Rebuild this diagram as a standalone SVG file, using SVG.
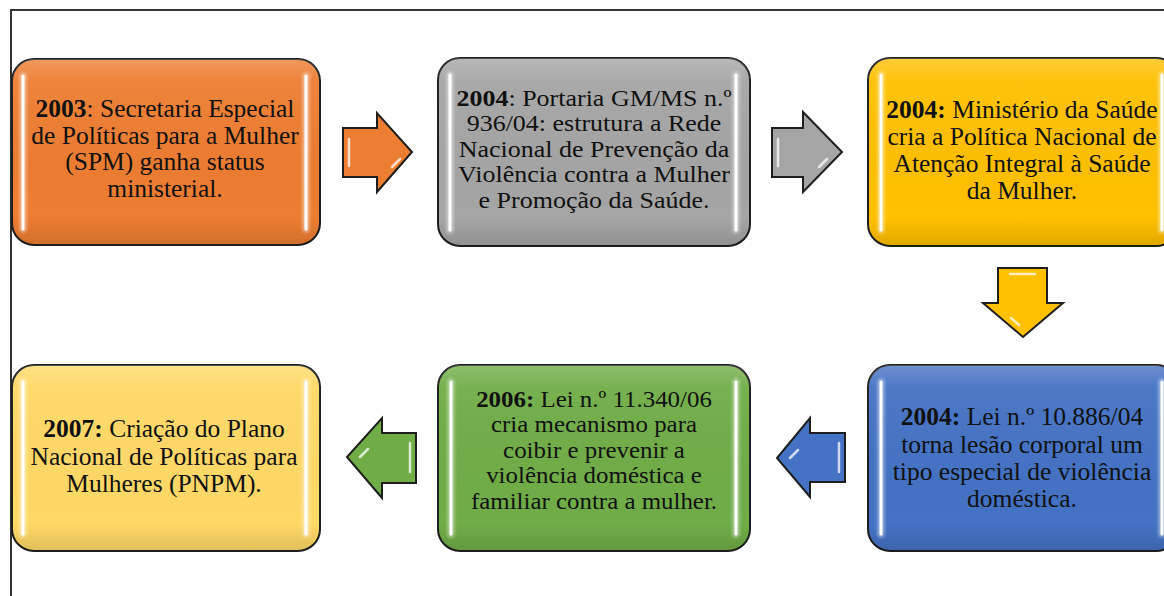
<svg xmlns="http://www.w3.org/2000/svg" width="1164" height="596" viewBox="0 0 1164 596">
<style>
.box{stroke:#1e1e1e;stroke-width:2}
.gl{fill:url(#gloss)}
.hl{stroke:#fff;stroke-width:3;stroke-linecap:round;fill:none}
.hlg{stroke:#fff;stroke-width:7;stroke-linecap:round;fill:none;opacity:.45;filter:url(#blur)}
.arr{stroke:#1e1e1e;stroke-width:2;stroke-linejoin:miter}
.ah{fill:none;stroke:#fff;stroke-width:2.5;stroke-linecap:round;opacity:.75}
text{font-family:"Liberation Serif","Times New Roman",serif;fill:#111;text-anchor:middle;font-size:25.5px}
.b{font-weight:bold}
</style>
<defs>
<linearGradient id="gloss" x1="0" y1="0" x2="0" y2="1">
<stop offset="0" stop-color="#fff" stop-opacity=".22"/>
<stop offset=".12" stop-color="#fff" stop-opacity=".05"/>
<stop offset=".85" stop-color="#000" stop-opacity="0"/>
<stop offset="1" stop-color="#000" stop-opacity=".12"/>
</linearGradient>
<filter id="blur" x="-50%" y="-10%" width="200%" height="120%"><feGaussianBlur stdDeviation="1.5"/></filter>
</defs>

<g id="frame" fill="none" stroke="#333" stroke-width="2">
<path d="M11,596 V10 H1164"/>
</g>

<g id="node-2003">
<rect class="box" x="12" y="59" width="308" height="186" rx="22" fill="#ED7D31"/>
<rect class="gl" x="12" y="59" width="308" height="186" rx="22"/>
<path class="hlg" d="M23,76 V229 M306,76 V229"/><path class="hl" d="M23,76 V229 M306,76 V229"/>
<text style="font-size:24.5px" transform="translate(165,0) scale(1.04,1)"><tspan x="0" y="117"><tspan class="b">2003</tspan>: Secretaria Especial</tspan><tspan x="0" y="144">de Políticas para a Mulher</tspan><tspan x="0" y="170.5">(SPM) ganha status</tspan><tspan x="0" y="197.5">ministerial.</tspan></text>
</g>

<g id="node-2004a">
<rect class="box" x="438" y="58" width="312" height="188" rx="22" fill="#A5A5A5"/>
<rect class="gl" x="438" y="58" width="312" height="188" rx="22"/>
<path class="hlg" d="M450,75 V230 M736,75 V230"/><path class="hl" d="M450,75 V230 M736,75 V230"/>
<text style="font-size:23px" transform="translate(594,0) scale(1.13,1)"><tspan x="0" y="106"><tspan class="b">2004</tspan>: Portaria GM/MS n.º</tspan><tspan x="0" y="131.5">936/04: estrutura a Rede</tspan><tspan x="0" y="157">Nacional de Prevenção da</tspan><tspan x="0" y="182.5">Violência contra a Mulher</tspan><tspan x="0" y="208">e Promoção da Saúde.</tspan></text>
</g>

<g id="node-2004b">
<rect class="box" x="868" y="58" width="310" height="188" rx="22" fill="#FFC000"/>
<rect class="gl" x="868" y="58" width="310" height="188" rx="22"/>
<path class="hlg" d="M881,75 V230 M1162,75 V230"/><path class="hl" d="M881,75 V230 M1162,75 V230"/>
<text><tspan x="1022" y="118"><tspan class="b">2004:</tspan> Ministério da Saúde</tspan><tspan x="1022" y="145">cria a Política Nacional de</tspan><tspan x="1022" y="172">Atenção Integral à Saúde</tspan><tspan x="1022" y="199">da Mulher.</tspan></text>
</g>

<g id="node-2004c">
<rect class="box" x="868" y="365" width="310" height="186" rx="22" fill="#4472C4"/>
<rect class="gl" x="868" y="365" width="310" height="186" rx="22"/>
<path class="hlg" d="M881,382 V534 M1162,382 V534"/><path class="hl" d="M881,382 V534 M1162,382 V534"/>
<text><tspan x="1022" y="425"><tspan class="b">2004:</tspan> Lei n.º 10.886/04</tspan><tspan x="1022" y="453">torna lesão corporal um</tspan><tspan x="1022" y="480">tipo especial de violência</tspan><tspan x="1022" y="507">doméstica.</tspan></text>
</g>

<g id="node-2006">
<rect class="box" x="438" y="365" width="312" height="186" rx="22" fill="#70AD47"/>
<rect class="gl" x="438" y="365" width="312" height="186" rx="22"/>
<path class="hlg" d="M451,382 V534 M736,382 V534"/><path class="hl" d="M451,382 V534 M736,382 V534"/>
<text style="font-size:23.5px" transform="translate(594,0) scale(1.06,1)"><tspan x="0" y="407"><tspan class="b">2006:</tspan> Lei n.º 11.340/06</tspan><tspan x="0" y="432.5">cria mecanismo para</tspan><tspan x="0" y="458">coibir e prevenir a</tspan><tspan x="0" y="483.5">violência doméstica e</tspan><tspan x="0" y="509">familiar contra a mulher.</tspan></text>
</g>

<g id="node-2007">
<rect class="box" x="12" y="365" width="308" height="186" rx="22" fill="#FFD966"/>
<rect class="gl" x="12" y="365" width="308" height="186" rx="22"/>
<path class="hlg" d="M23,382 V534 M306,382 V534"/><path class="hl" d="M23,382 V534 M306,382 V534"/>
<text><tspan x="164" y="437"><tspan class="b">2007:</tspan> Criação do Plano</tspan><tspan x="164" y="465">Nacional de Políticas para</tspan><tspan x="164" y="492">Mulheres (PNPM).</tspan></text>
</g>

<g id="connectors">
<path class="arr" fill="#ED7D31" d="M343,128 H377 V113 L412,152 L377,192 V177 H343 Z"/>
<path class="ah" d="M349,139 V166 M392,167 L400,159"/>
<path class="arr" fill="#A5A5A5" d="M772,128 H803 V112 L842,152 L803,192 V177 H772 Z"/>
<path class="ah" d="M778,139 V166 M819,167 L827,159"/>
<path class="arr" fill="#FFC000" d="M998,268 H1047 V303 H1063 L1023,337 L983,303 H998 Z"/>
<path class="ah" d="M1010,274 H1035 M1011,318 L1019,325"/>
<path class="arr" fill="#4472C4" d="M845,433 H810 V418 L777,458 L810,497 V482 H845 Z"/>
<path class="ah" d="M839,443 V472 M790,458 L798,450"/>
<path class="arr" fill="#70AD47" d="M416,433 H382 V418 L347,457 L382,498 V483 H416 Z"/>
<path class="ah" d="M410,443 V472 M360,457 L368,449"/>
</g>
</svg>
